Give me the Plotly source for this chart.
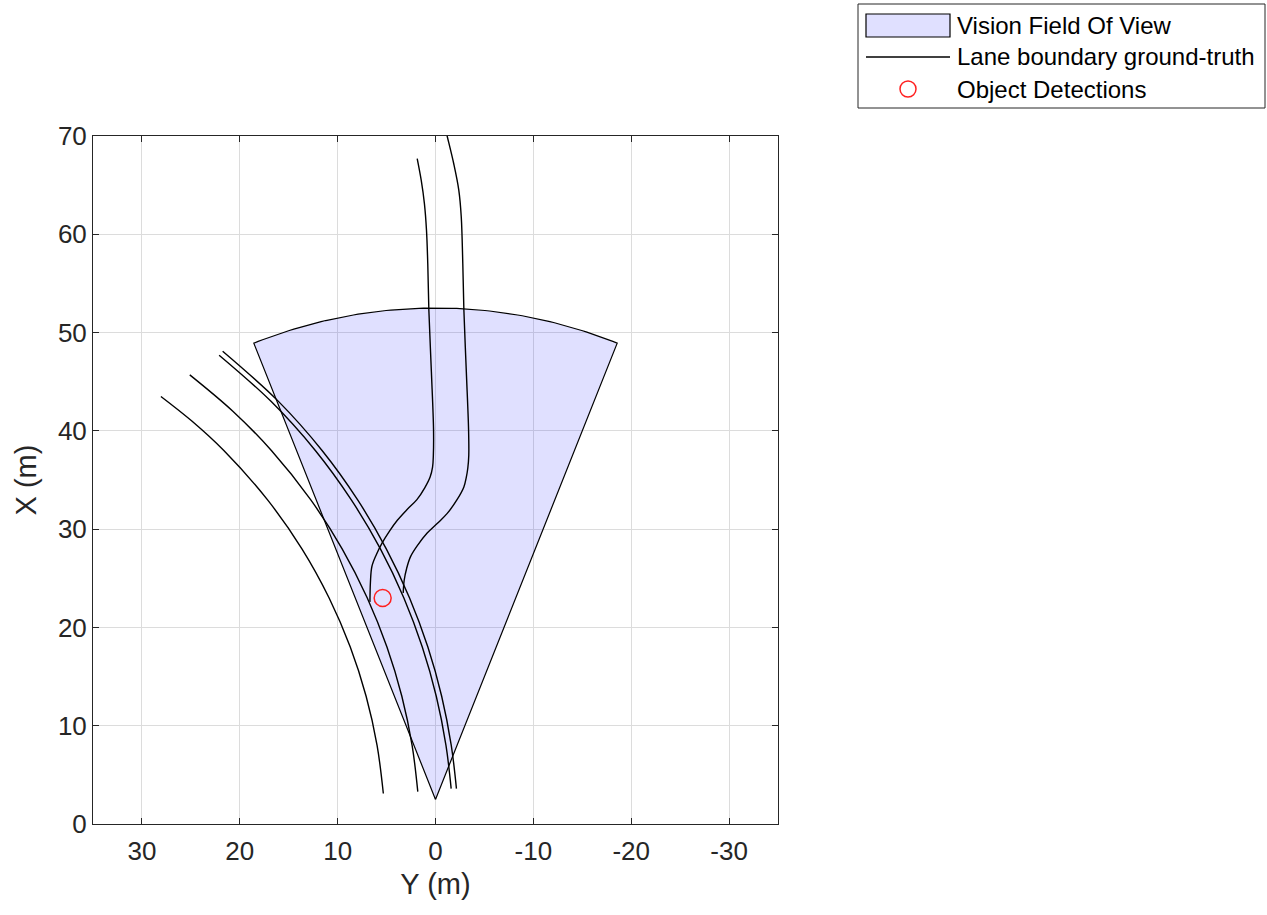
import numpy as np
import plotly.graph_objects as go

# ---- Sensor coverage (vision sensor) ----
SENSOR_X = 2.5      # m, longitudinal position of sensor
SENSOR_Y = 0.0      # m
SENSOR_RANGE = 50.0 # m
SENSOR_FOV = 43.6   # deg

# ---- Lane boundaries (X = longitudinal, Y = lateral) ----
lane1_x = [3.1, 8.0, 13.0, 18.0, 23.0, 28.0, 33.0, 38.0, 41.0, 43.5]
lane1_y = [5.33, 5.97, 7.09, 8.71, 10.87, 13.65, 17.18, 21.63, 24.9, 28.06]

lane2_x = [3.3, 8.0, 13.0, 18.0, 23.0, 28.0, 33.0, 38.0, 42.0, 45.7]
lane2_y = [1.81, 2.39, 3.44, 4.96, 6.97, 9.54, 12.76, 16.77, 20.71, 25.11]

lane3_x = [3.6, 8.0, 13.0, 18.0, 23.0, 28.0, 33.0, 38.0, 43.0, 47.7]
lane3_y = [-1.60, -1.07, -0.08, 1.35, 3.23, 5.63, 8.62, 12.28, 16.81, 22.11]

lane4_x = [3.6, 8.0, 13.0, 18.0, 23.0, 28.0, 33.0, 38.0, 43.0, 48.1]
lane4_y = [-2.14, -1.61, -0.63, 0.78, 2.65, 5.03, 7.97, 11.59, 16.05, 21.75]

lane5_x = [67.7, 65.5, 63.1, 60.4, 57.0, 52.3, 46.0, 40.1, 37.5, 36.3, 35.3, 34.2,
           33.0, 32.0, 30.9, 29.8, 28.6, 27.4, 26.2, 24.6, 22.6]
lane5_y = [1.87, 1.46, 1.13, 0.92, 0.79, 0.68, 0.42, 0.2, 0.22, 0.3, 0.55, 1.1,
           1.9, 2.9, 3.9, 4.7, 5.45, 6.05, 6.5, 6.65, 6.7]

lane6_x = [72.0, 70.0, 67.2, 64.5, 61.8, 57.0, 52.3, 46.0, 40.1, 37.5, 36.2, 35.3, 34.3,
           33.0, 31.6, 30.6, 29.6, 28.4, 27.2, 26.0, 24.8, 23.5]
lane6_y = [-0.7, -1.19, -1.86, -2.38, -2.63, -2.79, -2.9, -3.15, -3.38, -3.4, -3.3, -3.15, -2.9,
           -2.2, -1.2, -0.2, 0.85, 1.8, 2.55, 2.95, 3.2, 3.3]

lanes = [(lane1_x, lane1_y), (lane2_x, lane2_y), (lane3_x, lane3_y),
         (lane4_x, lane4_y), (lane5_x, lane5_y), (lane6_x, lane6_y)]

# ---- Object detections ----
det_x = [23.0]
det_y = [5.4]

# ---- Axis ticks ----
xtick_vals = [0, 10, 20, 30, 40, 50, 60, 70]
ytick_vals = [30, 20, 10, 0, -10, -20, -30]
ytick_text = ["30", "20", "10", "0", "-10", "-20", "-30"]

legend_labels = ["Vision Field Of View", "Lane boundary ground-truth", "Object Detections"]

FONT = "Liberation Sans, Arial, sans-serif"
FOV_FILL = "rgba(0,0,255,0.12)"
DET_COLOR = "#ff2020"

# Coverage polygon from sensor parameters
half = np.deg2rad(SENSOR_FOV / 2)
ang = np.linspace(-half, half, 80)
cov_x = np.concatenate([[SENSOR_X], SENSOR_X + SENSOR_RANGE * np.cos(ang), [SENSOR_X]])
cov_y = np.concatenate([[SENSOR_Y], SENSOR_Y + SENSOR_RANGE * np.sin(ang), [SENSOR_Y]])

fig = go.Figure()
fig.add_trace(go.Scatter(
    x=cov_y, y=cov_x, mode="lines", fill="toself",
    fillcolor=FOV_FILL, line=dict(color="black", width=1.2),
    name=legend_labels[0], hoverinfo="skip", showlegend=False))

for i, (lx, ly) in enumerate(lanes):
    fig.add_trace(go.Scatter(
        x=ly, y=lx, mode="lines",
        line=dict(color="black", width=1.4, shape="spline", smoothing=1.0),
        name=legend_labels[1], showlegend=False))

fig.add_trace(go.Scatter(
    x=det_y, y=det_x, mode="markers",
    marker=dict(symbol="circle-open", size=17, color=DET_COLOR,
                line=dict(width=1.5, color=DET_COLOR)),
    name=legend_labels[2], showlegend=False))

axis_common = dict(
    showgrid=True, gridcolor="#dcdcdc", gridwidth=1,
    zeroline=False, showline=True, linecolor="#262626", linewidth=1,
    mirror="ticks", ticks="inside", ticklen=6, tickcolor="#262626",
    tickfont=dict(family=FONT, size=26, color="#262626"),
)

# ---- page geometry (body margin removed by post_script) ----
W, H = 1267, 915
L, R, T, B = 93, 778, 136, 824


def px(xp):
    return (xp - L) / (R - L)


def py(yp):
    return (B - yp) / (B - T)


# ---- manual legend (MATLAB style), coordinates in pixels ----
shapes = [
    dict(type="rect", xref="paper", yref="paper", x0=px(858), x1=px(1265), y0=py(108), y1=py(4),
         line=dict(color="#262626", width=1), fillcolor="white", layer="above"),
    dict(type="rect", xref="paper", yref="paper", x0=px(866), x1=px(950), y0=py(37), y1=py(14),
         line=dict(color="black", width=1.2), fillcolor="rgb(224,224,255)", layer="above"),
    dict(type="line", xref="paper", yref="paper", x0=px(866), x1=px(950), y0=py(57), y1=py(57),
         line=dict(color="black", width=1.4), layer="above"),
    dict(type="circle", xref="paper", yref="paper", xsizemode="pixel", ysizemode="pixel",
         xanchor=px(908), yanchor=py(89), x0=-8, x1=8, y0=-8, y1=8,
         line=dict(color=DET_COLOR, width=1.5), layer="above"),
]
annotations = [
    dict(xref="paper", yref="paper", x=px(955), y=py(yp), text=t, showarrow=False,
         xanchor="left", yanchor="middle", font=dict(family=FONT, size=24, color="black"))
    for t, yp in zip(legend_labels, [25, 57, 89])
]

fig.update_layout(
    width=W, height=H,
    margin=dict(l=L, r=W - R, t=T, b=H - B, autoexpand=False),
    paper_bgcolor="white", plot_bgcolor="white",
    xaxis=dict(range=[35, -35], tickvals=ytick_vals, ticktext=ytick_text,
               ticklabelstandoff=4,
               title=dict(text="Y (m)", font=dict(family=FONT, size=29, color="#262626"), standoff=8),
               **axis_common),
    yaxis=dict(range=[0, 70], tickvals=xtick_vals,
               title=dict(text="X (m)", font=dict(family=FONT, size=29, color="#262626"), standoff=12),
               **axis_common),
    shapes=shapes, annotations=annotations,
    showlegend=False,
)

fig.write_html(
    "out.html",
    config={"displayModeBar": False},
    post_script="document.body.style.margin='0';document.body.style.overflow='hidden';",
)
